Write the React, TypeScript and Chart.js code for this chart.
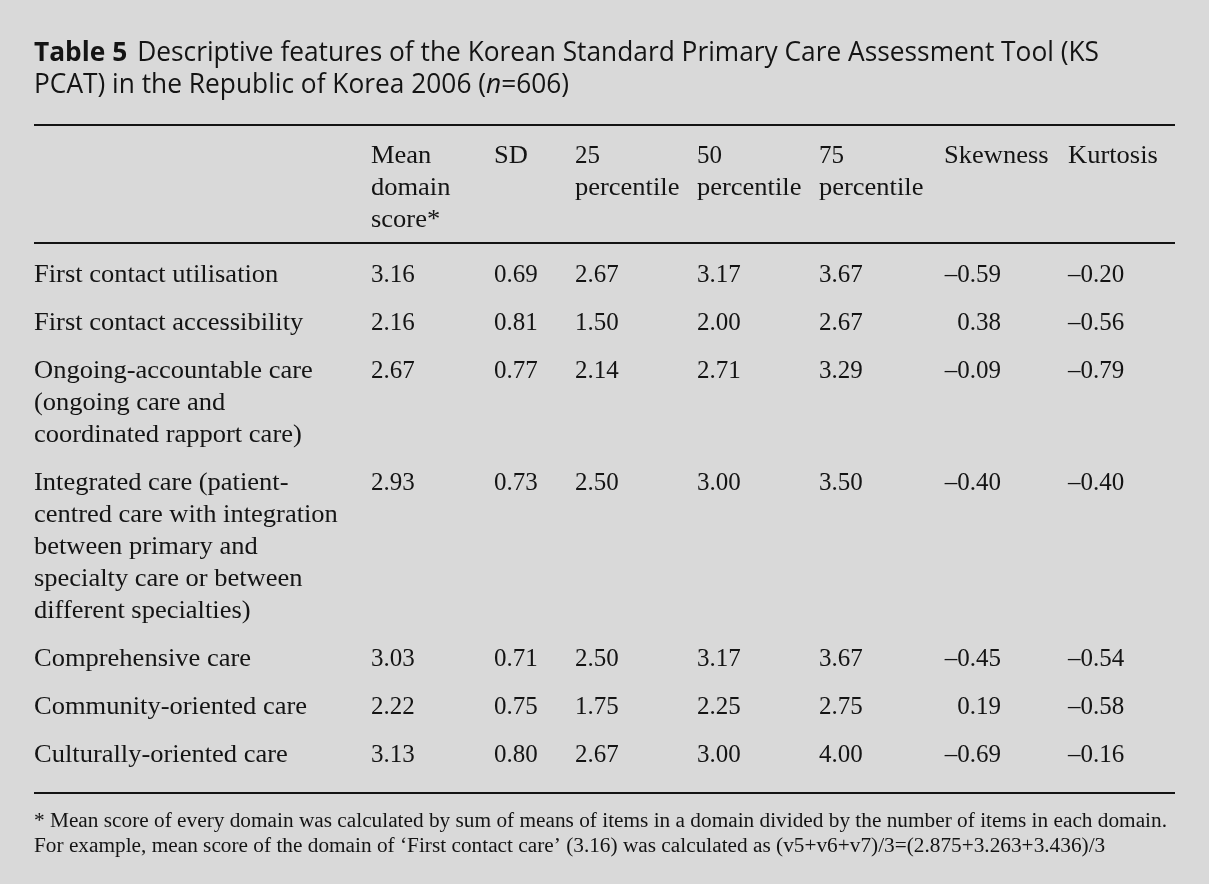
import React, { useEffect, useRef } from "react";
import { Chart, registerables } from "chart.js";

Chart.register(...registerables);

// ---------- data ----------
const titleBold = "Table 5";
const titleLine1 = "Descriptive features of the Korean Standard Primary Care Assessment Tool (KS";
const titleLine2Parts = [
  { text: "PCAT) in the Republic of Korea 2006 (", italic: false },
  { text: "n", italic: true },
  { text: "=606)", italic: false },
];

const columnHeaders = [
  ["Mean", "domain", "score*"],
  ["SD"],
  ["25", "percentile"],
  ["50", "percentile"],
  ["75", "percentile"],
  ["Skewness"],
  ["Kurtosis"],
];

const rowLabels = [
  ["First contact utilisation"],
  ["First contact accessibility"],
  ["Ongoing-accountable care", "(ongoing care and", "coordinated rapport care)"],
  [
    "Integrated care (patient-",
    "centred care with integration",
    "between primary and",
    "specialty care or between",
    "different specialties)",
  ],
  ["Comprehensive care"],
  ["Community-oriented care"],
  ["Culturally-oriented care"],
];

const meanScore = [3.16, 2.16, 2.67, 2.93, 3.03, 2.22, 3.13];
const sdValues = [0.69, 0.81, 0.77, 0.73, 0.71, 0.75, 0.8];
const p25Values = [2.67, 1.5, 2.14, 2.5, 2.5, 1.75, 2.67];
const p50Values = [3.17, 2.0, 2.71, 3.0, 3.17, 2.25, 3.0];
const p75Values = [3.67, 2.67, 3.29, 3.5, 3.67, 2.75, 4.0];
const skewnessValues = [-0.59, 0.38, -0.09, -0.4, -0.45, 0.19, -0.69];
const kurtosisValues = [-0.2, -0.56, -0.79, -0.4, -0.54, -0.58, -0.16];

const footnotes = [
  "* Mean score of every domain was calculated by sum of means of items in a domain divided by the number of items in each domain.",
  "For example, mean score of the domain of \u2018First contact care\u2019 (3.16) was calculated as (v5+v6+v7)/3=(2.875+3.263+3.436)/3",
];

// ---------- helpers ----------
const fmt = (v: number) => (v < 0 ? "\u2013" + Math.abs(v).toFixed(2) : v.toFixed(2));

const BG = "#d9d9d9";
const INK = "#141414";
const SERIF = "'Liberation Serif', 'DejaVu Serif', serif";
const SANS = "'Open Sans', 'Noto Sans', sans-serif";

function drawStretched(ctx: CanvasRenderingContext2D, text: string, x: number, y: number, sx: number) {
  ctx.save();
  ctx.translate(x, y);
  ctx.scale(sx, 1);
  ctx.fillText(text, 0, 0);
  ctx.restore();
}

const tablePlugin = {
  id: "tablePlugin",
  beforeDraw(chart: any) {
    const ctx = chart.ctx as CanvasRenderingContext2D;
    ctx.save();
    ctx.fillStyle = BG;
    ctx.fillRect(0, 0, chart.width, chart.height);
    ctx.restore();
  },
  afterDraw(chart: any) {
    const ctx = chart.ctx as CanvasRenderingContext2D;
    ctx.save();
    ctx.fillStyle = INK;
    ctx.strokeStyle = INK;
    ctx.textBaseline = "alphabetic";
    ctx.textAlign = "left";

    const left = 34;
    const right = 1175;

    // Title (fit first line to its printed width)
    const titleSize = 26.5;
    const gap = 10;
    ctx.font = `bold ${titleSize}px ${SANS}`;
    const wBold = ctx.measureText(titleBold).width;
    ctx.font = `${titleSize}px ${SANS}`;
    const wRest = ctx.measureText(titleLine1).width;
    const tsx = (1099 - left) / (wBold + gap + wRest);
    ctx.font = `bold ${titleSize}px ${SANS}`;
    drawStretched(ctx, titleBold, left, 61, tsx);
    ctx.font = `${titleSize}px ${SANS}`;
    drawStretched(ctx, titleLine1, left + (wBold + gap) * tsx, 61, tsx);
    let x = left;
    titleLine2Parts.forEach((p) => {
      ctx.font = `${p.italic ? "italic " : ""}${titleSize}px ${SANS}`;
      drawStretched(ctx, p.text, x, 93, tsx);
      x += ctx.measureText(p.text).width * tsx;
    });

    // Rules
    const rule = (y: number) => {
      ctx.fillRect(left, y, right - left, 2);
    };
    rule(124);
    rule(242);
    rule(792);

    // Header
    const colX = [371, 494, 575, 697, 819, 944, 1068];
    const lineH = 32;
    const labelSx = 1.06;
    ctx.font = `25px ${SERIF}`;
    columnHeaders.forEach((lines, ci) => {
      lines.forEach((t, li) => {
        drawStretched(ctx, t, colX[ci], 163 + li * lineH, /^\d+$/.test(t) ? 1 : labelSx);
      });
    });

    // Body
    const columns = [meanScore, sdValues, p25Values, p50Values, p75Values, skewnessValues, kurtosisValues];
    let y = 282;
    rowLabels.forEach((lines, ri) => {
      ctx.textAlign = "left";
      lines.forEach((t, li) => {
        drawStretched(ctx, t, left, y + li * lineH, labelSx);
      });
      columns.forEach((col, ci) => {
        const s = fmt(col[ri]);
        if (ci === 5) {
          ctx.textAlign = "right";
          ctx.fillText(s, 1001, y);
        } else {
          ctx.textAlign = "left";
          ctx.fillText(s, colX[ci], y);
        }
      });
      y += (lines.length - 1) * lineH + 48;
    });

    // Footnotes (fit first line to its printed width)
    ctx.textAlign = "left";
    ctx.font = `20px ${SERIF}`;
    const fsx = (1167 - left) / ctx.measureText(footnotes[0]).width;
    drawStretched(ctx, footnotes[0], left, 827, fsx);
    drawStretched(ctx, footnotes[1], left, 852, fsx);

    ctx.restore();
  },
};

export default function App() {
  const ref = useRef<HTMLCanvasElement>(null);
  useEffect(() => {
    document.body.style.margin = "0";
    document.body.style.background = BG;
    const canvas = ref.current!;
    const chart = new Chart(canvas, {
      type: "bar",
      data: { labels: [], datasets: [] },
      options: {
        responsive: false,
        animation: false,
        devicePixelRatio: 1,
        scales: { x: { display: false }, y: { display: false } },
        plugins: { legend: { display: false }, title: { display: false }, tooltip: { enabled: false } },
      },
      plugins: [tablePlugin],
    });
    return () => chart.destroy();
  }, []);
  return (
    <div style={{ width: 1209, height: 884 }}>
      <canvas ref={ref} width={1209} height={884} style={{ display: "block", width: 1209, height: 884 }} />
    </div>
  );
}
